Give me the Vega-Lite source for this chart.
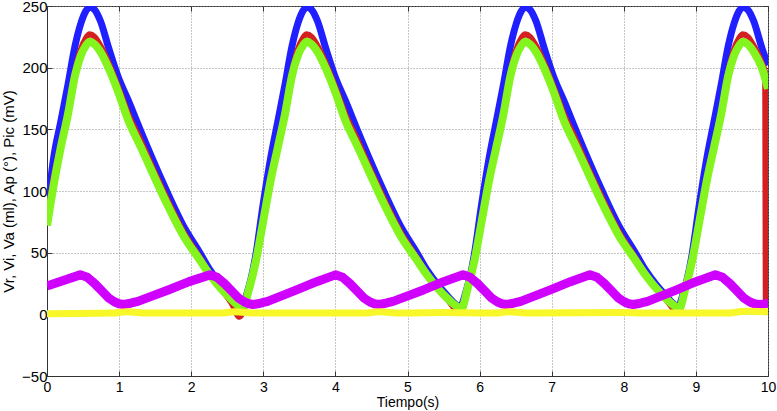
{
"$schema": "https://vega.github.io/schema/vega-lite/v6.json",
"width": 721, "height": 370,
"autosize": {"type": "none"},
"padding": {"left": 47, "top": 6, "right": 9, "bottom": 35},
"background": "white",
"config": {
  "font": "Liberation Sans",
  "view": {"stroke": "#333", "strokeWidth": 1},
  "axis": {"labelFontSize": 15, "labelColor": "#000", "titleFontSize": 15, "titleFontWeight": "normal", "titleColor": "#000", "domainColor": "#333", "tickColor": "#333", "gridColor": "#8a8a8a", "gridDash": [1, 2], "gridOpacity": 1}
},
"data": {"values": [
{"s":"B","t":0,"v":81},{"s":"B","t":0.09,"v":126},{"s":"B","t":0.19,"v":156},{"s":"B","t":0.29,"v":186},{"s":"B","t":0.39,"v":218},{"s":"B","t":0.47,"v":236},{"s":"B","t":0.54,"v":246},{"s":"B","t":0.59,"v":249},{"s":"B","t":0.66,"v":247},{"s":"B","t":0.74,"v":238},{"s":"B","t":0.86,"v":215},{"s":"B","t":0.99,"v":192},{"s":"B","t":1.13,"v":173},{"s":"B","t":1.29,"v":150},{"s":"B","t":1.47,"v":125},{"s":"B","t":1.66,"v":100},{"s":"B","t":1.89,"v":72},{"s":"B","t":2.12,"v":50},{"s":"B","t":2.26,"v":36},{"s":"B","t":2.41,"v":24},{"s":"B","t":2.56,"v":14},{"s":"B","t":2.66,"v":8},
{"s":"B","t":2.7,"v":6},{"s":"B","t":2.78,"v":18},{"s":"B","t":2.89,"v":46},{"s":"B","t":3.0,"v":90},{"s":"B","t":3.1,"v":126},{"s":"B","t":3.2,"v":156},{"s":"B","t":3.3,"v":186},{"s":"B","t":3.4,"v":218},{"s":"B","t":3.48,"v":236},{"s":"B","t":3.55,"v":246},{"s":"B","t":3.6,"v":249},{"s":"B","t":3.67,"v":247},{"s":"B","t":3.75,"v":238},{"s":"B","t":3.87,"v":215},{"s":"B","t":4.0,"v":192},{"s":"B","t":4.14,"v":173},{"s":"B","t":4.3,"v":150},{"s":"B","t":4.48,"v":125},{"s":"B","t":4.67,"v":100},{"s":"B","t":4.9,"v":72},{"s":"B","t":5.13,"v":50},{"s":"B","t":5.27,"v":36},{"s":"B","t":5.42,"v":24},{"s":"B","t":5.57,"v":14},{"s":"B","t":5.67,"v":8},
{"s":"B","t":5.73,"v":6},{"s":"B","t":5.81,"v":18},{"s":"B","t":5.92,"v":46},{"s":"B","t":6.03,"v":90},{"s":"B","t":6.13,"v":126},{"s":"B","t":6.23,"v":156},{"s":"B","t":6.33,"v":186},{"s":"B","t":6.43,"v":218},{"s":"B","t":6.51,"v":236},{"s":"B","t":6.58,"v":246},{"s":"B","t":6.63,"v":249},{"s":"B","t":6.7,"v":247},{"s":"B","t":6.78,"v":238},{"s":"B","t":6.9,"v":215},{"s":"B","t":7.03,"v":192},{"s":"B","t":7.17,"v":173},{"s":"B","t":7.33,"v":150},{"s":"B","t":7.51,"v":125},{"s":"B","t":7.7,"v":100},{"s":"B","t":7.93,"v":72},{"s":"B","t":8.16,"v":50},{"s":"B","t":8.3,"v":36},{"s":"B","t":8.45,"v":24},{"s":"B","t":8.6,"v":14},{"s":"B","t":8.7,"v":8},
{"s":"B","t":8.75,"v":6},{"s":"B","t":8.83,"v":18},{"s":"B","t":8.94,"v":46},{"s":"B","t":9.05,"v":90},{"s":"B","t":9.15,"v":126},{"s":"B","t":9.25,"v":156},{"s":"B","t":9.35,"v":186},{"s":"B","t":9.45,"v":218},{"s":"B","t":9.53,"v":236},{"s":"B","t":9.6,"v":246},{"s":"B","t":9.65,"v":249},{"s":"B","t":9.72,"v":247},{"s":"B","t":9.8,"v":238},{"s":"B","t":9.92,"v":215},{"s":"B","t":10,"v":202},

{"s":"R","t":0,"v":76},{"s":"R","t":0.09,"v":110},{"s":"R","t":0.19,"v":137},{"s":"R","t":0.29,"v":164},{"s":"R","t":0.39,"v":197},{"s":"R","t":0.47,"v":215},{"s":"R","t":0.54,"v":224},{"s":"R","t":0.59,"v":227},{"s":"R","t":0.66,"v":225},{"s":"R","t":0.74,"v":218},{"s":"R","t":0.86,"v":203},{"s":"R","t":0.99,"v":184},{"s":"R","t":1.13,"v":162},{"s":"R","t":1.29,"v":142},{"s":"R","t":1.47,"v":118},{"s":"R","t":1.66,"v":94},{"s":"R","t":1.89,"v":67},{"s":"R","t":2.12,"v":46},{"s":"R","t":2.26,"v":33},{"s":"R","t":2.41,"v":21},{"s":"R","t":2.56,"v":9},{"s":"R","t":2.67,"v":-2},
{"s":"R","t":2.72,"v":2},{"s":"R","t":2.8,"v":20},{"s":"R","t":2.9,"v":45},{"s":"R","t":3.0,"v":78},{"s":"R","t":3.1,"v":110},{"s":"R","t":3.2,"v":137},{"s":"R","t":3.3,"v":164},{"s":"R","t":3.4,"v":197},{"s":"R","t":3.48,"v":215},{"s":"R","t":3.55,"v":224},{"s":"R","t":3.6,"v":227},{"s":"R","t":3.67,"v":225},{"s":"R","t":3.75,"v":218},{"s":"R","t":3.87,"v":203},{"s":"R","t":4.0,"v":184},{"s":"R","t":4.14,"v":162},{"s":"R","t":4.3,"v":142},{"s":"R","t":4.48,"v":118},{"s":"R","t":4.67,"v":94},{"s":"R","t":4.9,"v":67},{"s":"R","t":5.13,"v":46},{"s":"R","t":5.27,"v":33},{"s":"R","t":5.42,"v":21},{"s":"R","t":5.57,"v":11},{"s":"R","t":5.67,"v":4},
{"s":"R","t":5.75,"v":3},{"s":"R","t":5.83,"v":20},{"s":"R","t":5.93,"v":45},{"s":"R","t":6.03,"v":78},{"s":"R","t":6.13,"v":110},{"s":"R","t":6.23,"v":137},{"s":"R","t":6.33,"v":164},{"s":"R","t":6.43,"v":197},{"s":"R","t":6.51,"v":215},{"s":"R","t":6.58,"v":224},{"s":"R","t":6.63,"v":227},{"s":"R","t":6.7,"v":225},{"s":"R","t":6.78,"v":218},{"s":"R","t":6.9,"v":203},{"s":"R","t":7.03,"v":184},{"s":"R","t":7.17,"v":162},{"s":"R","t":7.33,"v":142},{"s":"R","t":7.51,"v":118},{"s":"R","t":7.7,"v":94},{"s":"R","t":7.93,"v":67},{"s":"R","t":8.16,"v":46},{"s":"R","t":8.3,"v":33},{"s":"R","t":8.45,"v":21},{"s":"R","t":8.6,"v":11},{"s":"R","t":8.7,"v":4},
{"s":"R","t":8.77,"v":3},{"s":"R","t":8.85,"v":20},{"s":"R","t":8.95,"v":45},{"s":"R","t":9.05,"v":78},{"s":"R","t":9.15,"v":110},{"s":"R","t":9.25,"v":137},{"s":"R","t":9.35,"v":164},{"s":"R","t":9.45,"v":197},{"s":"R","t":9.53,"v":215},{"s":"R","t":9.6,"v":224},{"s":"R","t":9.65,"v":227},{"s":"R","t":9.72,"v":225},{"s":"R","t":9.8,"v":218},{"s":"R","t":9.92,"v":203},{"s":"R","t":9.96,"v":196},{"s":"R","t":9.97,"v":9},{"s":"R","t":10,"v":9},

{"s":"G","t":0,"v":72},{"s":"G","t":0.09,"v":104},{"s":"G","t":0.19,"v":135},{"s":"G","t":0.29,"v":162},{"s":"G","t":0.39,"v":194},{"s":"G","t":0.47,"v":210},{"s":"G","t":0.54,"v":218},{"s":"G","t":0.59,"v":221},{"s":"G","t":0.66,"v":219},{"s":"G","t":0.74,"v":213},{"s":"G","t":0.86,"v":199},{"s":"G","t":0.99,"v":180},{"s":"G","t":1.13,"v":157},{"s":"G","t":1.29,"v":137},{"s":"G","t":1.47,"v":114},{"s":"G","t":1.66,"v":90},{"s":"G","t":1.89,"v":64},{"s":"G","t":2.12,"v":44},{"s":"G","t":2.26,"v":32},{"s":"G","t":2.41,"v":21},{"s":"G","t":2.56,"v":12},{"s":"G","t":2.66,"v":7},
{"s":"G","t":2.72,"v":6},{"s":"G","t":2.8,"v":20},{"s":"G","t":2.9,"v":44},{"s":"G","t":3.0,"v":76},{"s":"G","t":3.1,"v":108},{"s":"G","t":3.2,"v":135},{"s":"G","t":3.3,"v":162},{"s":"G","t":3.4,"v":194},{"s":"G","t":3.48,"v":210},{"s":"G","t":3.55,"v":218},{"s":"G","t":3.6,"v":221},{"s":"G","t":3.67,"v":219},{"s":"G","t":3.75,"v":213},{"s":"G","t":3.87,"v":199},{"s":"G","t":4.0,"v":180},{"s":"G","t":4.14,"v":157},{"s":"G","t":4.3,"v":137},{"s":"G","t":4.48,"v":114},{"s":"G","t":4.67,"v":90},{"s":"G","t":4.9,"v":64},{"s":"G","t":5.13,"v":44},{"s":"G","t":5.27,"v":32},{"s":"G","t":5.42,"v":21},{"s":"G","t":5.57,"v":12},{"s":"G","t":5.67,"v":7},
{"s":"G","t":5.75,"v":5},{"s":"G","t":5.83,"v":20},{"s":"G","t":5.93,"v":44},{"s":"G","t":6.03,"v":76},{"s":"G","t":6.13,"v":108},{"s":"G","t":6.23,"v":135},{"s":"G","t":6.33,"v":162},{"s":"G","t":6.43,"v":194},{"s":"G","t":6.51,"v":210},{"s":"G","t":6.58,"v":218},{"s":"G","t":6.63,"v":221},{"s":"G","t":6.7,"v":219},{"s":"G","t":6.78,"v":213},{"s":"G","t":6.9,"v":199},{"s":"G","t":7.03,"v":180},{"s":"G","t":7.17,"v":157},{"s":"G","t":7.33,"v":137},{"s":"G","t":7.51,"v":114},{"s":"G","t":7.7,"v":90},{"s":"G","t":7.93,"v":64},{"s":"G","t":8.16,"v":44},{"s":"G","t":8.3,"v":32},{"s":"G","t":8.45,"v":21},{"s":"G","t":8.6,"v":12},{"s":"G","t":8.7,"v":7},
{"s":"G","t":8.77,"v":5},{"s":"G","t":8.85,"v":20},{"s":"G","t":8.95,"v":44},{"s":"G","t":9.05,"v":76},{"s":"G","t":9.15,"v":108},{"s":"G","t":9.25,"v":135},{"s":"G","t":9.35,"v":162},{"s":"G","t":9.45,"v":194},{"s":"G","t":9.53,"v":210},{"s":"G","t":9.6,"v":218},{"s":"G","t":9.65,"v":221},{"s":"G","t":9.72,"v":219},{"s":"G","t":9.8,"v":213},{"s":"G","t":9.92,"v":199},{"s":"G","t":10,"v":183},

{"s":"M","t":0,"v":23},{"s":"M","t":0.46,"v":32},
{"s":"M","t":0.56,"v":30},{"s":"M","t":0.66,"v":25},{"s":"M","t":0.76,"v":19},{"s":"M","t":0.86,"v":13},{"s":"M","t":0.94,"v":10},{"s":"M","t":1.0,"v":8.6},{"s":"M","t":1.06,"v":8},{"s":"M","t":1.16,"v":9},{"s":"M","t":1.26,"v":10.5},{"s":"M","t":1.69,"v":20},{"s":"M","t":1.97,"v":26.5},{"s":"M","t":2.26,"v":32},
{"s":"M","t":2.36,"v":30},{"s":"M","t":2.46,"v":25},{"s":"M","t":2.56,"v":19},{"s":"M","t":2.66,"v":13},{"s":"M","t":2.74,"v":10},{"s":"M","t":2.8,"v":8.6},{"s":"M","t":2.86,"v":8},{"s":"M","t":2.96,"v":9},{"s":"M","t":3.06,"v":10.5},{"s":"M","t":3.47,"v":20},{"s":"M","t":3.74,"v":26.5},{"s":"M","t":4.0,"v":32},
{"s":"M","t":4.1,"v":30},{"s":"M","t":4.2,"v":25},{"s":"M","t":4.3,"v":19},{"s":"M","t":4.4,"v":13},{"s":"M","t":4.48,"v":10},{"s":"M","t":4.54,"v":8.6},{"s":"M","t":4.6,"v":8},{"s":"M","t":4.7,"v":9},{"s":"M","t":4.8,"v":10.5},{"s":"M","t":5.23,"v":20},{"s":"M","t":5.5,"v":26.5},{"s":"M","t":5.77,"v":32},
{"s":"M","t":5.87,"v":30},{"s":"M","t":5.97,"v":25},{"s":"M","t":6.07,"v":19},{"s":"M","t":6.17,"v":13},{"s":"M","t":6.25,"v":10},{"s":"M","t":6.31,"v":8.6},{"s":"M","t":6.37,"v":8},{"s":"M","t":6.47,"v":9},{"s":"M","t":6.57,"v":10.5},{"s":"M","t":6.99,"v":20},{"s":"M","t":7.26,"v":26.5},{"s":"M","t":7.53,"v":32},
{"s":"M","t":7.63,"v":30},{"s":"M","t":7.73,"v":25},{"s":"M","t":7.83,"v":19},{"s":"M","t":7.93,"v":13},{"s":"M","t":8.01,"v":10},{"s":"M","t":8.07,"v":8.6},{"s":"M","t":8.13,"v":8},{"s":"M","t":8.23,"v":9},{"s":"M","t":8.33,"v":10.5},{"s":"M","t":8.74,"v":20},{"s":"M","t":9.0,"v":26.5},{"s":"M","t":9.27,"v":32},
{"s":"M","t":9.37,"v":30},{"s":"M","t":9.47,"v":25},{"s":"M","t":9.57,"v":19},{"s":"M","t":9.67,"v":13},{"s":"M","t":9.75,"v":10},{"s":"M","t":9.81,"v":8.6},{"s":"M","t":9.87,"v":8},{"s":"M","t":9.95,"v":8.5},{"s":"M","t":10,"v":9},

{"s":"Y","t":0,"v":0.5},{"s":"Y","t":0.9,"v":1},{"s":"Y","t":1.1,"v":2},{"s":"Y","t":1.4,"v":1},{"s":"Y","t":2.4,"v":1},{"s":"Y","t":2.6,"v":2},{"s":"Y","t":2.9,"v":1},{"s":"Y","t":4.4,"v":1},{"s":"Y","t":4.6,"v":2},{"s":"Y","t":4.9,"v":1},{"s":"Y","t":5.5,"v":1.5},{"s":"Y","t":6.2,"v":1},{"s":"Y","t":6.4,"v":2},{"s":"Y","t":6.7,"v":1},{"s":"Y","t":8.0,"v":1.5},{"s":"Y","t":8.3,"v":1},{"s":"Y","t":9.4,"v":1},{"s":"Y","t":9.7,"v":2.5},{"s":"Y","t":10,"v":2}
]},
"layer": [
  {"transform": [{"filter": "datum.s === 'B'"}],
   "mark": {"type": "line", "color": "#1f1fff", "strokeWidth": 7, "interpolate": "monotone", "clip": true},
   "encoding": {
     "x": {"field": "t", "type": "quantitative", "scale": {"domain": [0, 10], "nice": false, "zero": false},
           "axis": {"values": [0,1,2,3,4,5,6,7,8,9,10], "grid": true, "title": "Tiempo(s)", "titleFontSize": 14, "labelFontSize": 14, "tickSize": -5, "labelPadding": 9, "titlePadding": 1, "labelFlush": false}},
     "y": {"field": "v", "type": "quantitative", "scale": {"domain": [-50, 250], "nice": false, "zero": false},
           "axis": {"values": [-50,0,50,100,150,200,250], "grid": true, "title": "Vr, Vi, Va (ml), Ap (°), Pic (mV)", "tickSize": -5, "labelPadding": 5, "titlePadding": 5, "labelFlush": false}}
   }},
  {"transform": [{"filter": "datum.s === 'R'"}],
   "mark": {"type": "line", "color": "#d42020", "strokeWidth": 6, "interpolate": "monotone", "clip": true},
   "encoding": {
     "x": {"field": "t", "type": "quantitative", "scale": {"domain": [0, 10], "nice": false, "zero": false}, "axis": null},
     "y": {"field": "v", "type": "quantitative", "scale": {"domain": [-50, 250], "nice": false, "zero": false}, "axis": null}
   }},
  {"transform": [{"filter": "datum.s === 'G'"}],
   "mark": {"type": "line", "color": "#84f41e", "strokeWidth": 8, "interpolate": "monotone", "clip": true},
   "encoding": {
     "x": {"field": "t", "type": "quantitative", "scale": {"domain": [0, 10], "nice": false, "zero": false}, "axis": null},
     "y": {"field": "v", "type": "quantitative", "scale": {"domain": [-50, 250], "nice": false, "zero": false}, "axis": null}
   }},
  {"transform": [{"filter": "datum.s === 'M'"}],
   "mark": {"type": "line", "color": "#d000ff", "strokeWidth": 9, "interpolate": "linear", "strokeJoin": "round", "clip": true},
   "encoding": {
     "x": {"field": "t", "type": "quantitative", "scale": {"domain": [0, 10], "nice": false, "zero": false}, "axis": null},
     "y": {"field": "v", "type": "quantitative", "scale": {"domain": [-50, 250], "nice": false, "zero": false}, "axis": null}
   }},
  {"transform": [{"filter": "datum.s === 'Y'"}],
   "mark": {"type": "line", "color": "#f7f72a", "strokeWidth": 7, "interpolate": "monotone", "clip": true},
   "encoding": {
     "x": {"field": "t", "type": "quantitative", "scale": {"domain": [0, 10], "nice": false, "zero": false},
           "axis": {"orient": "top", "values": [0,1,2,3,4,5,6,7,8,9,10], "labels": false, "grid": false, "domain": false, "title": null, "tickSize": -5}},
     "y": {"field": "v", "type": "quantitative", "scale": {"domain": [-50, 250], "nice": false, "zero": false},
           "axis": {"orient": "right", "values": [-50,0,50,100,150,200,250], "labels": false, "grid": false, "domain": false, "title": null, "tickSize": -5}}
   }}
],
"resolve": {"axis": {"x": "independent", "y": "independent"}}
}
